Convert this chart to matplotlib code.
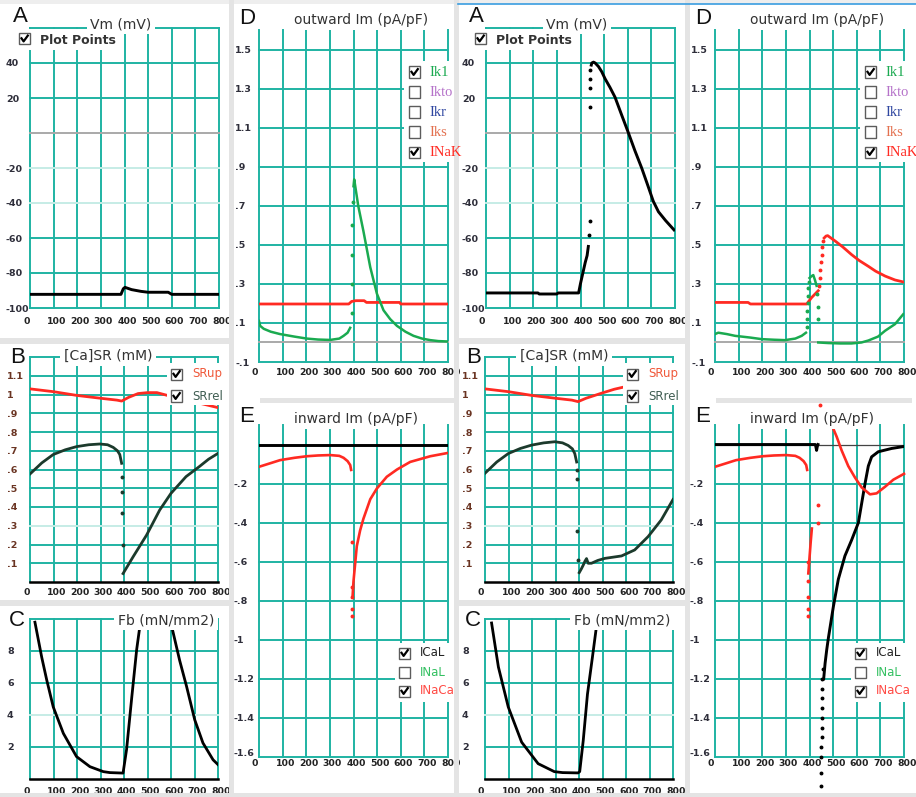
import matplotlib
matplotlib.use("Agg")
import matplotlib.pyplot as plt
from matplotlib.patches import Rectangle
from matplotlib.lines import Line2D
from matplotlib.transforms import ScaledTranslation

# ---------------------------------------------------------------- data
x_ticks = [0, 100, 200, 300, 400, 500, 600, 700, 800]
x_tick_labels = ["0", "100", "200", "300", "400", "500", "600", "700", "800"]

vm_ticks = [40, 20, -20, -40, -60, -80, -100]
vm_tick_labels = ["40", "20", "-20", "-40", "-60", "-80", "-100"]
out_ticks = [1.5, 1.3, 1.1, 0.9, 0.7, 0.5, 0.3, 0.1, -0.1]
out_tick_labels = ["1.5", "1.3", "1.1", ".9", ".7", ".5", ".3", ".1", "-.1"]
in_ticks = [-0.2, -0.4, -0.6, -0.8, -1.0, -1.2, -1.4, -1.6]
in_tick_labels = ["-.2", "-.4", "-.6", "-.8", "-1", "-1.2", "-1.4", "-1.6"]
sr_ticks = [1.1, 1.0, 0.9, 0.8, 0.7, 0.6, 0.5, 0.4, 0.3, 0.2, 0.1]
sr_tick_labels = ["1.1", "1", ".9", ".8", ".7", ".6", ".5", ".4", ".3", ".2", ".1"]
fb_ticks = [8, 6, 4, 2]
fb_tick_labels = ["8", "6", "4", "2"]

out_legend = ["Ik1", "Ikto", "Ikr", "Iks", "INaK"]
out_checked = [True, False, False, False, True]
in_legend = ["ICaL", "INaL", "INaCa"]
in_checked = [True, False, True]
sr_legend = ["SRup", "SRrel"]
sr_checked = [True, True]

# ---- left half: Vm
vmL_t = [0, 385, 395, 402, 430, 470, 500, 585, 600, 800]
vmL_v = [-92.2, -92.2, -89.0, -88.2, -89.5, -90.5, -91.0, -91.0, -92.2, -92.2]
# ---- right half: Vm
vmR1_t = [0, 220, 225, 300, 305, 392, 400, 410, 420, 428, 434]
vmR1_v = [-91.4, -91.4, -92.0, -92.0, -91.4, -91.4, -86, -80, -74, -70, -64]
vmR_dots_t = [437, 439, 440, 441, 441, 442]
vmR_dots_v = [-58, -50, 15, 26, 31, 36]
vmR2_t = [444, 448, 455, 462, 476, 490, 504, 525, 546, 575, 603, 630, 659, 685, 708, 730, 760, 800]
vmR2_v = [38, 40, 40.5, 40, 38, 35, 31, 26, 20.5, 10, 0, -10, -20, -30, -39, -45, -50, -56]

# ---- left half: outward currents
inakL_t = [0, 380, 392, 410, 445, 455, 595, 600, 800]
inakL_v = [0.197, 0.197, 0.21, 0.214, 0.214, 0.205, 0.205, 0.197, 0.197]
ik1L1_t = [0, 5, 20, 50, 89, 150, 202, 250, 301, 340, 358, 375, 386]
ik1L1_v = [0.11, 0.085, 0.07, 0.055, 0.043, 0.03, 0.02, 0.015, 0.013, 0.02, 0.034, 0.05, 0.075]
ik1L_dots_t = [392, 393, 394, 395, 396]
ik1L_dots_v = [0.15, 0.3, 0.45, 0.6, 0.72]
ik1L2_t = [400, 403, 420, 442, 471, 499, 527, 555, 584, 620, 654, 690, 725, 760, 800]
ik1L2_v = [0.8, 0.835, 0.7, 0.57, 0.385, 0.25, 0.165, 0.12, 0.085, 0.055, 0.034, 0.02, 0.012, 0.007, 0.005]
# ---- right half: outward currents
inakR1_t = [0, 140, 150, 388, 409, 437]
inakR1_v = [0.205, 0.205, 0.197, 0.197, 0.23, 0.265]
inakR_dots_t = [440, 443, 446, 449, 452, 455, 458]
inakR_dots_v = [0.29, 0.33, 0.37, 0.41, 0.45, 0.49, 0.52]
inakR2_t = [462, 470, 477, 508, 540, 578, 610, 649, 680, 720, 762, 797]
inakR2_v = [0.535, 0.545, 0.547, 0.52, 0.49, 0.45, 0.42, 0.39, 0.365, 0.34, 0.32, 0.31]
ik1R1_t = [0, 14, 50, 85, 150, 198, 250, 296, 340, 367, 385]
ik1R1_v = [0.043, 0.05, 0.043, 0.034, 0.025, 0.017, 0.014, 0.012, 0.02, 0.034, 0.05]
ik1R_dots_t = [389, 390, 391, 392, 393, 394, 396, 432, 434, 436]
ik1R_dots_v = [0.08, 0.12, 0.16, 0.2, 0.24, 0.28, 0.31, 0.25, 0.18, 0.12]
ik1R2_t = [400, 409, 416, 423, 430]
ik1R2_v = [0.33, 0.34, 0.345, 0.32, 0.29]
ik1R3_t = [437, 480, 530, 578, 620, 649, 690, 720, 762, 797]
ik1R3_v = [0.0, -0.003, -0.005, -0.005, 0.0, 0.01, 0.03, 0.06, 0.094, 0.145]

# ---- left half: [Ca]SR
srupL_t = [0, 100, 200, 300, 370, 390, 420, 460, 500, 540, 600, 700, 800]
srupL_v = [1.03, 1.015, 0.995, 0.98, 0.97, 0.965, 0.985, 1.005, 1.01, 1.01, 0.99, 0.96, 0.93]
srrelL1_t = [0, 50, 99, 150, 198, 250, 297, 330, 354, 372, 382, 390]
srrelL1_v = [0.576, 0.635, 0.68, 0.705, 0.722, 0.732, 0.736, 0.732, 0.718, 0.7, 0.68, 0.633]
srrelL_dots_t = [391, 392, 393, 394]
srrelL_dots_v = [0.56, 0.48, 0.37, 0.2]
srrelL2_t = [396, 439, 496, 552, 600, 664, 720, 760, 800]
srrelL2_v = [0.045, 0.135, 0.25, 0.384, 0.473, 0.562, 0.615, 0.655, 0.686]
# ---- right half: [Ca]SR
srupR_t = [0, 100, 200, 300, 370, 396, 430, 496, 550, 602, 640]
srupR_v = [1.03, 1.015, 0.995, 0.98, 0.97, 0.962, 0.98, 1.007, 1.028, 1.043, 1.05]
srrelR1_t = [0, 50, 99, 150, 198, 250, 297, 330, 354, 372, 382, 390]
srrelR1_v = [0.58, 0.64, 0.685, 0.712, 0.73, 0.742, 0.748, 0.742, 0.728, 0.71, 0.685, 0.64]
srrelR_dots_t = [391, 392, 393, 395]
srrelR_dots_v = [0.6, 0.55, 0.27, 0.12]
srrelR2_t = [401, 410, 418, 425, 432, 439, 453, 480, 510, 581, 637, 694, 750, 800]
srrelR2_v = [0.05, 0.07, 0.09, 0.11, 0.125, 0.1, 0.1, 0.115, 0.126, 0.139, 0.171, 0.242, 0.331, 0.44]

# ---- left half: Fb
fbL1_t = [21, 50, 71, 99, 142, 198, 255, 312, 340, 396, 411, 433, 454, 468, 480]
fbL1_v = [9.8, 7.6, 6.2, 4.5, 2.85, 1.4, 0.77, 0.46, 0.4, 0.37, 1.85, 5.1, 8.1, 9.6, 10.5]
fbL2_t = [596, 602, 637, 666, 701, 736, 779, 800]
fbL2_v = [10.5, 9.6, 7.4, 5.8, 3.7, 2.25, 1.2, 0.9]
# ---- right half: Fb
fbR_t = [28, 57, 99, 156, 226, 295, 330, 396, 403, 418, 436, 457, 474, 480]
fbR_v = [9.75, 7.0, 4.5, 2.3, 0.96, 0.46, 0.4, 0.38, 0.46, 2.4, 5.3, 7.6, 9.5, 10.5]

# ---- left half: inward currents
icalL_t = [0, 400, 800]
icalL_v = [0, 0, 0]
incaL1_t = [0, 50, 89, 150, 202, 250, 301, 340, 358, 375, 386, 390]
incaL1_v = [-0.114, -0.095, -0.08, -0.068, -0.06, -0.056, -0.054, -0.058, -0.068, -0.085, -0.105, -0.13]
incaL_dots_t = [392, 393, 393, 394, 394]
incaL_dots_v = [-0.5, -0.73, -0.78, -0.84, -0.88]
incaL2_t = [396, 400, 407, 414, 428, 442, 471, 499, 541, 584, 640, 725, 800]
incaL2_v = [-0.78, -0.7, -0.61, -0.52, -0.44, -0.38, -0.28, -0.225, -0.165, -0.128, -0.089, -0.06, -0.043]
# ---- right half: inward currents
icalR1_t = [0, 425, 430, 433, 436]
icalR1_v = [0, 0, -0.03, -0.01, 0]
icalR_dots_t = [456, 455, 455, 454, 453, 453, 452, 451, 450, 449, 449, 448]
icalR_dots_v = [-1.15, -1.2, -1.25, -1.3, -1.35, -1.4, -1.45, -1.5, -1.55, -1.6, -1.68, -1.75]
icalR2_t = [460, 466, 473, 480, 501, 522, 550, 578, 607, 621, 635, 649, 663, 691, 748, 800]
icalR2_v = [-1.2, -1.12, -1.05, -0.99, -0.83, -0.69, -0.57, -0.49, -0.40, -0.3, -0.2, -0.11, -0.063, -0.037, -0.02, -0.01]
incaR1_t = [0, 50, 89, 150, 202, 250, 301, 340, 358, 375, 386, 390]
incaR1_v = [-0.114, -0.095, -0.08, -0.068, -0.06, -0.056, -0.054, -0.058, -0.068, -0.085, -0.105, -0.13]
incaR_seg_t = [395, 400, 405, 410]
incaR_seg_v = [-0.66, -0.58, -0.5, -0.43]
incaR_dots_t = [392, 393, 393, 394, 394, 436, 437, 444]
incaR_dots_v = [-0.6, -0.7, -0.78, -0.84, -0.88, -0.31, -0.4, 0.2]
incaR2_t = [488, 494, 515, 536, 564, 593, 621, 656, 684, 720, 755, 800]
incaR2_v = [0.14, 0.1, 0.04, -0.03, -0.11, -0.17, -0.22, -0.255, -0.25, -0.216, -0.18, -0.15]

# ---------------------------------------------------------------- style
W, H = 916, 797
TEAL = "#1fb3a3"
PALE = "#c6ece6"
ZERO = "#a9a9a9"
SEP = "#e4e4e4"
RED = "#ff2a22"
GREEN = "#1aaa50"
DARK = "#1c3a2c"
LBL = "#2e2e3a"

fig = plt.figure(figsize=(W / 100, H / 100), dpi=100)
fig.patch.set_facecolor("white")


def fx(x):
    return x / W


def fy(y):
    return 1 - y / H


def frect(x, y, w, h, fc, ec="none", lw=0.0, z=2):
    fig.add_artist(Rectangle((fx(x), fy(y + h)), w / W, h / H, transform=fig.transFigure,
                             facecolor=fc, edgecolor=ec, linewidth=lw, zorder=z))


def ftext(x, y, s, **kw):
    fig.text(fx(x), fy(y), s, **kw)


def checkbox(x, y, checked):
    frect(x, y, 11, 11, "white", "#5c5c5c", 1.0, 4)
    if checked:
        xs = [x + 2.5, x + 4.6, x + 8.8]
        ys = [y + 5.3, y + 8.4, y + 2.6]
        fig.add_artist(Line2D([fx(v) for v in xs], [fy(v) for v in ys], transform=fig.transFigure,
                              color="black", lw=1.6, zorder=5))


def panel(x0, y0, x1, y1, ylim, hlines, pale, yticks, ylabels, xpad, ycol,
          gray=None, black=None, ylab_off=24, lift_last=0):
    ax = fig.add_axes([fx(x0), fy(y1), (x1 - x0) / W, (y1 - y0) / H])
    ax.set_facecolor("none")
    for s in ax.spines.values():
        s.set_visible(False)
    ax.set_xlim(0, 800)
    ax.set_ylim(*ylim)
    for xv in x_ticks:
        ax.axvline(xv, color=TEAL, lw=1.4, zorder=1, clip_on=False)
    for yv in hlines:
        ax.axhline(yv, color=PALE if yv in pale else TEAL, lw=1.4, zorder=1, clip_on=False)
    if gray is not None:
        ax.axhline(gray, color=ZERO, lw=1.4, zorder=1.5, clip_on=False)
    if black is not None:
        ax.axhline(black, color="black", lw=1.8, zorder=1.5, clip_on=False)
    ax.set_xticks(x_ticks, x_tick_labels)
    ax.set_yticks(yticks, ylabels)
    ax.tick_params(length=0)
    ax.tick_params(axis="x", pad=xpad, labelsize=6.7, labelcolor="#222222")
    ax.tick_params(axis="y", pad=ylab_off * 0.72, labelsize=6.8, labelcolor=ycol)
    ylabs = ax.get_yticklabels()
    for lab in ylabs:
        lab.set_fontweight("bold")
        lab.set_horizontalalignment("left")
    if lift_last:
        ylabs[-1].set_transform(ylabs[-1].get_transform()
                                + ScaledTranslation(0, lift_last / 100, fig.dpi_scale_trans))
    for lab in ax.get_xticklabels():
        lab.set_fontweight("bold")
        lab.set_horizontalalignment("left")
        lab.set_transform(lab.get_transform() + ScaledTranslation(-7 / 100, 0, fig.dpi_scale_trans))
    return ax


def title(x, y, s):
    ftext(x, y, s, ha="center", va="center", fontsize=10, color="#333333",
          bbox=dict(boxstyle="square,pad=0.25", facecolor="white", edgecolor="none"))


def letter(x, y, s):
    ftext(x, y, s, ha="center", va="center", fontsize=16, family="Liberation Sans", color="#111111")


def dots(ax, t, v, color, clip=True):
    ax.plot(t, v, linestyle="none", marker="o", ms=1.8, color=color, zorder=3, clip_on=clip)


# ---------------------------------------------------------------- separators
frect(0, 0, W, 4, "#eeeeee", z=2.5)
fig.add_artist(Line2D([fx(458), fx(916)], [fy(4), fy(4)], transform=fig.transFigure,
                      color="#3a9de0", lw=1.2, zorder=2.6))
frect(0, 793, W, 4, SEP, z=2.5)
for ox in (0, 456):
    frect(ox + 229, 0, 5, H, SEP, z=2.5)
    frect(ox + 0, 338, 232, 6, SEP, z=2.5)
    frect(ox + 0, 600, 232, 6, SEP, z=2.5)
    frect(ox + 260, 398, 196, 5, SEP, z=2.5)
frect(454, 0, 5, H, SEP, z=2.5)


# ---------------------------------------------------------------- halves
def draw_half(ox, vm, outw, sr, fb, inw, right):
    # ---- A: Vm
    ax = panel(30 + ox, 28, 219 + ox, 308, (-100, 60), [60, 40, 20, -20, -40, -60, -80, -100],
               [-20, -40], vm_ticks, vm_tick_labels, 6.5, LBL, gray=0)
    for kind, t, v in vm:
        if kind == "line":
            ax.plot(t, v, color="black", lw=2.1, zorder=3, solid_capstyle="butt")
        else:
            dots(ax, t, v, "black")
    letter(20 + ox, 17, "A")
    title(121 + ox, 24, "Vm (mV)")
    frect(15 + ox, 29, 108, 21, "white", z=2.4)
    checkbox(19 + ox, 33, True)
    ftext(40 + ox, 40, "Plot Points", ha="left", va="center", fontsize=9, fontweight="bold",
          color="#333333")

    # ---- D: outward Im
    ax = panel(259 + ox, 30, 448 + ox, 362, (-0.1, 1.6),
               [1.5, 1.3, 1.1, 0.9, 0.7, 0.5, 0.3, 0.1, -0.1], [], out_ticks, out_tick_labels,
               4.3, LBL, gray=0)
    for kind, col, t, v in outw:
        if kind == "line":
            ax.plot(t, v, color=col, lw=2.0 if col == RED else 1.8, zorder=3)
        else:
            dots(ax, t, v, col)
    letter(247 + ox, 18, "D")
    title(361 + ox, 20, "outward Im (pA/pF)")
    frect(404 + ox, 61, 58, 101, "white", z=2.2)
    out_cols = [GREEN, "#b572c9", "#2f46a0", "#e3704f", RED]
    for i, (lab, chk, col) in enumerate(zip(out_legend, out_checked, out_cols)):
        yc = 72 + i * 20
        checkbox(409 + ox, yc - 5.5, chk)
        ftext(429 + ox, yc, lab, ha="left", va="center", fontsize=10.5, color=col,
              family="Liberation Serif")

    # ---- B: [Ca]SR
    sx = 30 + ox - (1 if right else 0)
    ax = panel(sx, 357, sx + 188, 582, (0, 1.2),
               [1.2, 1.1, 1.0, 0.9, 0.8, 0.7, 0.6, 0.5, 0.4, 0.3, 0.2, 0.1], [0.3],
               sr_ticks, sr_tick_labels, 4.3, "#6a3422", black=0, ylab_off=23)
    for kind, col, t, v in sr:
        if kind == "line":
            ax.plot(t, v, color=col, lw=2.0, zorder=3)
        else:
            dots(ax, t, v, col)
    letter(18 + ox, 358, "B")
    title(108 + ox, 356, "[Ca]SR (mM)")
    frect(167 + ox, 363, 62, 42, "white", z=2.2)
    for i, (lab, chk, col) in enumerate(zip(sr_legend, sr_checked, ["#f0583a", "#3f5d52"])):
        yc = 374 + i * 22
        checkbox(171 + ox, yc - 5.5, chk)
        ftext(192 + ox, yc, lab, ha="left", va="center", fontsize=8.5, color=col)

    # ---- C: Fb
    ax = panel(sx, 619, sx + 188, 779, (0, 10),
               [10, 8, 6, 4, 2], [4], fb_ticks, fb_tick_labels, 5.8, LBL, black=0, ylab_off=23)
    for t, v in fb:
        ax.plot(t, v, color="black", lw=2.0, zorder=3)
    letter(17 + ox, 621, "C")
    title(166 + ox, 620, "Fb (mN/mm2)")

    # ---- E: inward Im
    ax = panel(259 + ox, 425, 448 + ox, 757, (-1.6, 0.1),
               [-0.2, -0.4, -0.6, -0.8, -1.0, -1.2, -1.4, -1.6], [], in_ticks, in_tick_labels,
               1.5, LBL, ylab_off=25, lift_last=4)
    if right:
        ax.axhline(0, color="#444444", lw=0.9, zorder=2)
    for kind, col, t, v, clip in inw:
        if kind == "line":
            ax.plot(t, v, color=col, lw=2.1 if col == "black" else 1.9, zorder=3, clip_on=clip)
        else:
            dots(ax, t, v, col, clip)
    letter(247 + ox, 416, "E")
    title(356 + ox, 419, "inward Im (pA/pF)")
    frect(395 + ox, 643, 66, 59, "white", z=2.2)
    for i, (lab, chk, col) in enumerate(zip(in_legend, in_checked, ["#222222", "#33c061", "#ff4a44"])):
        yc = 653 + i * 19
        checkbox(399 + ox, yc - 5.5, chk)
        ftext(420 + ox, yc, lab, ha="left", va="center", fontsize=8.5, color=col)


draw_half(
    0,
    vm=[("line", vmL_t, vmL_v)],
    outw=[("line", RED, inakL_t, inakL_v),
          ("line", GREEN, ik1L1_t, ik1L1_v),
          ("dots", GREEN, ik1L_dots_t, ik1L_dots_v),
          ("line", GREEN, ik1L2_t, ik1L2_v)],
    sr=[("line", RED, srupL_t, srupL_v),
        ("line", DARK, srrelL1_t, srrelL1_v),
        ("dots", DARK, srrelL_dots_t, srrelL_dots_v),
        ("line", DARK, srrelL2_t, srrelL2_v)],
    fb=[(fbL1_t, fbL1_v), (fbL2_t, fbL2_v)],
    inw=[("line", "black", icalL_t, icalL_v, True),
         ("line", RED, incaL1_t, incaL1_v, True),
         ("dots", RED, incaL_dots_t, incaL_dots_v, True),
         ("line", RED, incaL2_t, incaL2_v, True)],
    right=False,
)

draw_half(
    456,
    vm=[("line", vmR1_t, vmR1_v), ("dots", vmR_dots_t, vmR_dots_v), ("line", vmR2_t, vmR2_v)],
    outw=[("line", RED, inakR1_t, inakR1_v),
          ("dots", RED, inakR_dots_t, inakR_dots_v),
          ("line", RED, inakR2_t, inakR2_v),
          ("line", GREEN, ik1R1_t, ik1R1_v),
          ("dots", GREEN, ik1R_dots_t, ik1R_dots_v),
          ("line", GREEN, ik1R2_t, ik1R2_v),
          ("line", GREEN, ik1R3_t, ik1R3_v)],
    sr=[("line", RED, srupR_t, srupR_v),
        ("line", DARK, srrelR1_t, srrelR1_v),
        ("dots", DARK, srrelR_dots_t, srrelR_dots_v),
        ("line", DARK, srrelR2_t, srrelR2_v)],
    fb=[(fbR_t, fbR_v)],
    inw=[("line", "black", icalR1_t, icalR1_v, True),
         ("dots", "black", icalR_dots_t, icalR_dots_v, False),
         ("line", "black", icalR2_t, icalR2_v, True),
         ("line", RED, incaR1_t, incaR1_v, True),
         ("line", RED, incaR_seg_t, incaR_seg_v, True),
         ("dots", RED, incaR_dots_t, incaR_dots_v, False),
         ("line", RED, incaR2_t, incaR2_v, False)],
    right=True,
)

fig.savefig("out.png", dpi=100)
